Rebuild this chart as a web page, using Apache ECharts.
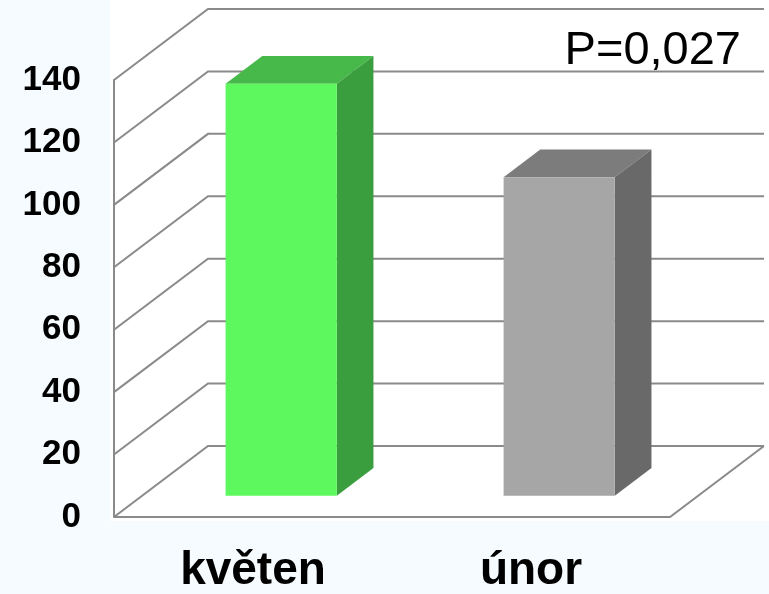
<!DOCTYPE html>
<html>
<head>
<meta charset="utf-8">
<script src="https://cdn.jsdelivr.net/npm/echarts@6/dist/echarts.min.js"></script>
<style>
  html, body { margin: 0; padding: 0; background: #F5FBFE; }
  #chart { width: 769px; height: 594px; }
</style>
</head>
<body>
<div id="chart"></div>
<script>
// Categories and values
const categories = ['květen', 'únor'];
const values = [132, 102];
const yTicks = [0, 20, 40, 60, 80, 100, 120, 140];
const pLabel = 'P=0,027';

// Oblique depth of the 3D box (pixels) and where the bars sit within it
const DEPTH = [94, -71];
const BAR_FRONT = 0.30;
const BAR_BACK = 0.69;
const BAR_WIDTH = 0.4;

const faceColors = [
  { front: '#5DF85D', top: '#47B94B', side: '#3A9E3E' },
  { front: '#A6A6A6', top: '#7C7C7C', side: '#696969' }
];
const LINE = '#8A8A8A';

const chart = echarts.init(document.getElementById('chart'), null, { renderer: 'canvas' });

function wallsItem(params, api) {
  const v = api.value(0);
  const cs = params.coordSys;
  const y = api.coord([0, v])[1];
  const x0 = cs.x, x1 = cs.x + cs.width;
  const children = [{
    type: 'polyline',
    shape: { points: [[x0, y], [x0 + DEPTH[0], y + DEPTH[1]], [x1 + DEPTH[0], y + DEPTH[1]]] },
    style: { stroke: LINE, lineWidth: 2, fill: null }
  }];
  if (v === 0) {
    children.push({
      type: 'polyline',
      shape: { points: [[x0, y], [x1, y], [x1 + DEPTH[0], y + DEPTH[1]]] },
      style: { stroke: LINE, lineWidth: 2, fill: null }
    });
  }
  return { type: 'group', children };
}

function barItem(params, api) {
  const idx = api.value(0);
  const val = api.value(1);
  const base = api.coord([idx, 0]);
  const top = api.coord([idx, val]);
  const w = api.size([1, 0])[0] * BAR_WIDTH;
  const fx = DEPTH[0] * BAR_FRONT, fy = DEPTH[1] * BAR_FRONT;
  const bx = DEPTH[0] * BAR_BACK, by = DEPTH[1] * BAR_BACK;
  const L = base[0] - w / 2, R = base[0] + w / 2;
  const c = faceColors[idx];
  return {
    type: 'group',
    children: [
      { type: 'polygon', shape: { points: [[L + fx, top[1] + fy], [R + fx, top[1] + fy], [R + bx, top[1] + by], [L + bx, top[1] + by]] }, style: { fill: c.top } },
      { type: 'polygon', shape: { points: [[R + fx, top[1] + fy], [R + bx, top[1] + by], [R + bx, base[1] + by], [R + fx, base[1] + fy]] }, style: { fill: c.side } },
      { type: 'rect', shape: { x: L + fx, y: top[1] + fy, width: w, height: base[1] - top[1] }, style: { fill: c.front } }
    ]
  };
}

chart.setOption({
  backgroundColor: '#F5FBFE',
  animation: false,
  graphic: [
    { type: 'rect', z: -10, shape: { x: 110, y: 0, width: 659, height: 521 }, style: { fill: '#FFFFFF' } },
    { type: 'text', z: 10, style: { x: 741, y: 51, text: pLabel, textAlign: 'right', textVerticalAlign: 'middle', fontFamily: 'Liberation Sans', fontSize: 47, fill: '#000000' } }
  ],
  grid: { left: 114, right: 99, top: 80, bottom: 77 },
  xAxis: {
    type: 'category',
    data: categories,
    axisLine: { show: false },
    axisTick: { show: false },
    axisLabel: { margin: 31, fontFamily: 'Liberation Sans', fontWeight: 'bold', fontSize: 46, color: '#000000' }
  },
  yAxis: {
    type: 'value',
    min: 0, max: 140, interval: 20,
    splitLine: { show: false },
    axisTick: { show: false },
    axisLine: { show: true, lineStyle: { color: LINE, width: 2 } },
    axisLabel: { margin: 33, fontFamily: 'Liberation Sans', fontWeight: 'bold', fontSize: 35, color: '#000000' }
  },
  series: [
    { type: 'custom', clip: false, z: 1, data: yTicks.map(v => [v]), renderItem: wallsItem },
    { type: 'custom', clip: false, z: 2, data: values.map((v, i) => [i, v]), renderItem: barItem }
  ]
});
</script>
</body>
</html>
